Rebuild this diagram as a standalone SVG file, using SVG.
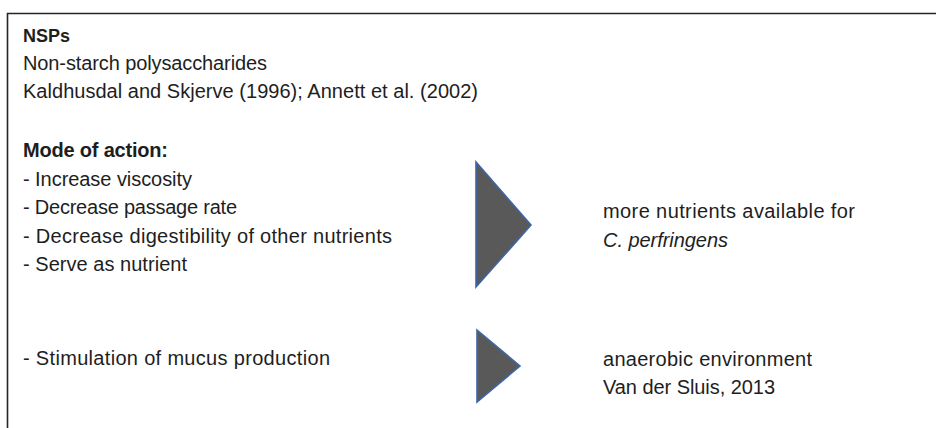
<svg xmlns="http://www.w3.org/2000/svg" width="936" height="428" viewBox="0 0 936 428">
<style>
text{font-family:"Liberation Sans",Arial,sans-serif;font-size:20px;fill:#1e1e1e}
.b{font-weight:bold}
.i{font-style:italic}
.frame{fill:none;stroke:#262626;stroke-width:1.6}
.arrow{fill:#595959;stroke:#3d65a8;stroke-width:1.6;stroke-linejoin:miter}
</style>
<rect width="936" height="428" fill="#ffffff"/>
<path class="frame" d="M7.5 428V13.5H936"/>
<g id="header">
<text class="b" x="23" y="42" style="font-size:18px">NSPs</text>
<text x="23" y="70" textLength="244">Non-starch polysaccharides</text>
<text x="23" y="98" textLength="455">Kaldhusdal and Skjerve (1996); Annett et al. (2002)</text>
</g>
<g id="mode-of-action">
<text class="b" x="23" y="157" textLength="145">Mode of action:</text>
<text x="23" y="186" textLength="169">- Increase viscosity</text>
<text x="23" y="214" textLength="214">- Decrease passage rate</text>
<text x="23" y="243" textLength="369">- Decrease digestibility of other nutrients</text>
<text x="23" y="271" textLength="164">- Serve as nutrient</text>
</g>
<g id="mucus">
<text x="23" y="365" textLength="307">- Stimulation of mucus production</text>
</g>
<g id="nutrients-result">
<text x="603" y="218" textLength="252">more nutrients available for</text>
<text class="i" x="603" y="247" textLength="125">C. perfringens</text>
</g>
<g id="anaerobic-result">
<text x="603" y="366" textLength="209">anaerobic environment</text>
<text x="603" y="394" textLength="172">Van der Sluis, 2013</text>
</g>
<g id="connectors">
<polygon class="arrow" points="476,162 531,225 476,287"/>
<polygon class="arrow" points="477,330 520,366 477,402"/>
</g>
</svg>
